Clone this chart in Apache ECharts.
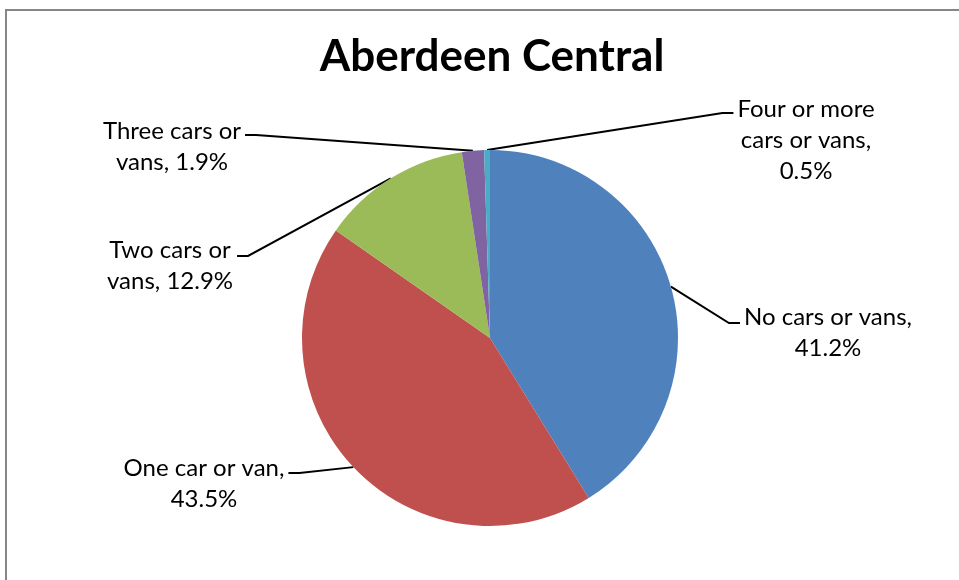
<!DOCTYPE html>
<html><head><meta charset="utf-8">
<script src="https://cdn.jsdelivr.net/npm/echarts@6/dist/echarts.min.js"></script>
<style>html,body{margin:0;padding:0;background:#fff}#c{width:959px;height:580px}</style>
</head><body><div id="c"></div>
<script>
// ---- data ----
const categories = ['No cars or vans', 'One car or van', 'Two cars or vans', 'Three cars or vans', 'Four or more cars or vans'];
const shares = [41.2, 43.5, 12.9, 1.9, 0.5];
// label text wrapping ({v} is replaced with the value)
const labelTemplates = ['No cars or vans,\n{v}', 'One car or van,\n{v}', 'Two cars or\nvans, {v}', 'Three cars or\nvans, {v}', 'Four or more\ncars or vans,\n{v}'];
const colors = ['#4F81BD', '#C0504D', '#9BBB59', '#8064A2', '#4BACC6'];

// ---- label placement (style) ----
const LABEL_LAYOUT = [
  {x: 828, y: 333, side: 'right', lineY: 323},
  {x: 204, y: 484, side: 'left',  lineY: 473},
  {x: 170, y: 266, side: 'left',  lineY: 256},
  {x: 172, y: 147, side: 'left',  lineY: 135},
  {x: 806, y: 140, side: 'right', lineY: 113}
];

const chart = echarts.init(document.getElementById('c'), null, {renderer: 'canvas'});
chart.setOption({
  backgroundColor: '#ffffff',
  animation: false,
  title: {
    text: 'Aberdeen Central',
    left: 487, top: 30, textAlign: 'center',
    textStyle: {fontFamily: 'Lato', fontWeight: 'bold', fontSize: 44, color: '#000'}
  },
  graphic: [{
    type: 'rect', silent: true,
    shape: {x: 6, y: 10, width: 1100, height: 1000},
    style: {fill: 'none', stroke: '#868686', lineWidth: 2}
  }],
  series: [{
    type: 'pie',
    center: [490, 338],
    radius: 188,
    startAngle: 90,
    clockwise: true,
    avoidLabelOverlap: false,
    itemStyle: {borderWidth: 0},
    label: {
      show: true, position: 'outside',
      fontFamily: 'Lato', fontSize: 24, color: '#000', lineHeight: 31, align: 'center',
      formatter: p => labelTemplates[p.dataIndex].replace('{v}', p.value.toFixed(1) + '%')
    },
    labelLine: {show: true, length: 15, length2: 10, lineStyle: {color: '#000', width: 2}},
    labelLayout: function (params) {
      const L = LABEL_LAYOUT[params.dataIndex];
      const w = params.labelRect.width;
      let end, bend;
      if (L.side === 'right') { end = L.x - w / 2 - 4; bend = end - 11; }
      else { end = L.x + w / 2 + 4; bend = end + 11; }
      const out = {x: L.x, y: L.y, align: 'center', verticalAlign: 'middle'};
      if (params.labelLinePoints && params.labelLinePoints[0]) {
        out.labelLinePoints = [params.labelLinePoints[0], [bend, L.lineY], [end, L.lineY]];
      }
      return out;
    },
    data: categories.map((c, i) => ({name: c, value: shares[i], itemStyle: {color: colors[i]}}))
  }]
});
</script></body></html>
